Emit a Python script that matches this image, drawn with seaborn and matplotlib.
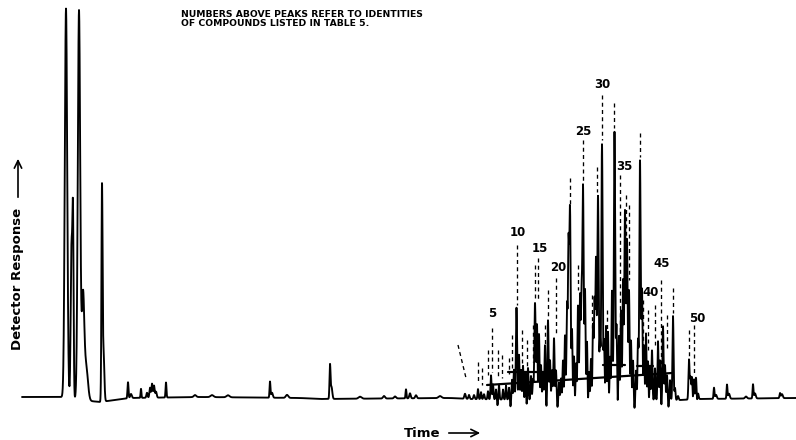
import numpy as np
import pandas as pd
import matplotlib
matplotlib.use("Agg")
import matplotlib.pyplot as plt
import seaborn as sns

sns.set_theme(style="white")
plt.rcParams['font.family'] = ['DejaVu Sans']
plt.rcParams['text.color'] = 'black'
plt.rcParams['axes.labelcolor'] = 'black'

# ---- chromatogram peaks: retention position, height above baseline, half-width ----
peak_time = [
    66, 71.5, 73, 79, 83, 86, 102, 103.5,
    128, 131, 141, 147, 150, 152, 154, 156, 166, 195, 212, 228,
    270, 272, 287, 330, 331.5, 360, 384, 395, 406, 410, 416, 440,
    465, 469, 474, 478, 481, 484, 488, 491, 493, 496, 499, 503, 506, 509,
    512, 514, 516.5, 519, 521, 523, 525.5, 528, 531, 533, 535, 537, 539,
    541, 543, 545, 548, 550, 552, 554, 556, 559, 561, 563, 565, 567,
    568.5, 570, 572, 574, 576, 578, 580, 581.5, 583, 585, 587, 589, 591,
    593, 594.5, 596, 598, 600, 602, 604, 606, 608, 610, 612, 614.5,
    616.5, 619, 621, 623, 625, 627, 629, 631, 633, 636, 638, 640, 642,
    644, 646, 648, 650, 652, 655, 658, 660, 663, 665, 667, 670, 673,
    675, 678, 689, 690.5, 692, 694, 696, 698,
    714, 716, 727, 729, 746, 753, 755, 780, 782,
    497.5, 510.5, 526.5, 546.5, 557.5, 575, 588, 603, 609, 617.5,
    634.5, 649, 661.5, 668.5, 692.5, 697,
]
peak_height = [
    389, 150, 170, 389, 100, 35, 210, 50,
    16, 4, 9, 5, 10, 14, 12, 6, 15, 2, 2, 2,
    16, 5, 3, 33, 12, 2, 2.5, 2, 9, 5, 3, 2,
    5, 4, 4, 10, 7, 5, 8, 24, 15, 10, 14, 10, 14, 12,
    20, 30, 92, 45, 30, 34, 28, 32, 24, 20, 97, 75, 66,
    35, 28, 55, 80, 40, 30, 62, 30, 18, 22, 40, 65, 95,
    150, 192, 70, 45, 38, 95, 105, 98, 214, 110, 60, 30, 42,
    75, 100, 140, 205, 60, 257, 60, 75, 70, 45, 110, 269,
    75, 65, 90, 120, 190, 160, 110, 60, 40, 30, 60, 240, 110,
    55, 67, 40, 35, 50, 32, 59, 40, 74, 35, 25, 20, 84,
    12, 4, 40, 22, 25, 20, 22, 6,
    11, 4, 14, 5, 2, 14, 5, 5, 4,
    -6, -7, -7, -8, -7, -6, -8, -6, -7, -6,
    -8, -7, -6, -7, -5, -4,
]
peak_width = [
    1.2, 0.8, 0.6, 1.2, 1.2, 1.8, 0.55, 0.8,
    0.5, 0.8, 0.4, 0.6, 0.6, 0.6, 0.6, 0.7, 0.45, 1.2, 1.5, 1.5,
    0.45, 0.8, 1.2, 0.5, 0.8, 1.5, 1.0, 1.0, 0.45, 0.7, 0.8, 1.5,
    0.7, 0.6, 0.6, 0.5, 0.5, 0.6, 0.5, 0.5, 0.5, 0.5, 0.5, 0.5, 0.5, 0.5,
    0.5, 0.5, 0.6, 0.5, 0.5, 0.5, 0.5, 0.5, 0.5, 0.5, 0.65, 0.5, 0.5,
    0.5, 0.5, 0.5, 0.55, 0.5, 0.5, 0.55, 0.5, 0.5, 0.5, 0.5, 0.5, 0.55,
    0.55, 0.65, 0.5, 0.5, 0.5, 0.55, 0.55, 0.55, 0.65, 0.55, 0.5, 0.5, 0.5,
    0.5, 0.55, 0.55, 0.65, 0.5, 0.65, 0.5, 0.5, 0.5, 0.5, 0.55, 0.65,
    0.5, 0.5, 0.5, 0.55, 0.65, 0.6, 0.55, 0.5, 0.5, 0.5, 0.5, 0.65, 0.55,
    0.5, 0.5, 0.5, 0.5, 0.5, 0.5, 0.5, 0.5, 0.55, 0.5, 0.5, 0.5, 0.55,
    0.5, 0.6, 0.55, 0.5, 0.5, 0.5, 0.5, 0.6,
    0.45, 0.8, 0.45, 0.8, 1.0, 0.45, 0.8, 0.5, 0.8,
    0.5, 0.5, 0.5, 0.5, 0.5, 0.5, 0.5, 0.4, 0.5, 0.5,
    0.5, 0.5, 0.5, 0.5, 0.5, 0.5,
]

# detector baseline drift
baseline_time = [22, 62, 90, 100, 115, 130, 200, 300, 320, 450, 470, 600, 680, 700, 796]
baseline_level = [0, 0, -4, -5, -3, -1, 0, -1, -2, -1, -2, -4, -3, -2, -1]

# compound numbers written above the peaks
label_text = ["5", "10", "15", "20", "25", "30", "35", "40", "45", "50"]
label_time = [492, 518, 540, 558, 583, 602, 624, 651, 662, 697]
label_level = [84, 165, 149, 130, 266, 313, 231, 105, 134, 79]

# dashed identification marks: top position, bottom position, top level, bottom level
dash_top_time = [492, 517, 538, 535, 556, 548, 570, 583, 597, 602, 614, 620, 626, 629,
                 640, 643, 661, 673, 689, 694, 458, 478, 482, 488, 498, 502, 509, 512,
                 522, 527, 533, 545, 578, 592, 607, 648, 655, 667]
dash_bot_time = [492, 517, 538, 535, 556, 548, 570, 583, 597, 602, 614, 620, 626, 629,
                 640, 643, 661, 673, 689, 694, 466, 478, 482, 488, 498, 502, 509, 512,
                 522, 527, 533, 545, 578, 592, 607, 648, 655, 667]
dash_top = [69, 152, 139, 132, 119, 107, 219, 257, 230, 302, 294, 222, 202, 192,
            264, 97, 117, 109, 67, 72, 52, 35, 29, 47, 47, 42, 39, 62,
            67, 57, 72, 72, 132, 102, 87, 87, 92, 82]
dash_bottom = [25, 92, 97, 97, 62, 79, 192, 214, 205, 257, 269, 32, 97, 117,
               240, 25, 25, 84, 40, 22, 19, 15, 12, 22, 19, 19, 23, 27,
               30, 29, 35, 52, 107, 67, 57, 47, 52, 47]

# integration baselines drawn under the cluster
seg_start = [487, 508, 603, 637]
seg_end = [672, 555, 625, 653]
seg_start_level = [12, 25, 32, 31]
seg_end_level = [24, 25, 32, 31]

# ---- build the detector trace ----
t = np.arange(22, 796.01, 0.1)
signal = np.interp(t, baseline_time, baseline_level)
for c, h, w in zip(peak_time, peak_height, peak_width):
    signal = signal + h * np.exp(-0.5 * ((t - c) / w) ** 2)
trace = pd.DataFrame({"time": t, "response": signal})

fig = plt.figure(figsize=(7.96, 4.40), dpi=100)
ax = fig.add_axes([0, 28 / 440, 1, 412 / 440])

sns.lineplot(data=trace, x="time", y="response", color="black", linewidth=1.35,
             estimator=None, sort=False, ax=ax)

for x0, x1, y0, y1 in zip(dash_top_time, dash_bot_time, dash_top, dash_bottom):
    ax.plot([x0, x1], [y0, y1], color="black", linewidth=0.95,
            linestyle=(0, (3, 2.5)))

for x0, x1, y0, y1 in zip(seg_start, seg_end, seg_start_level, seg_end_level):
    ax.plot([x0, x1], [y0, y1], color="black", linewidth=1.6)

for txt, x, y in zip(label_text, label_time, label_level):
    ax.text(x, y, txt, ha="center", va="center", fontsize=8.5,
            fontweight="bold", color="black")

ax.text(181, 378, "NUMBERS ABOVE PEAKS REFER TO IDENTITIES\nOF COMPOUNDS LISTED IN TABLE 5.",
        ha="left", va="center", fontsize=6.7, fontweight="bold", linespacing=1.0,
        color="black")

ax.set_xlim(0, 796)
ax.set_ylim(-15, 397)
ax.set_xticks([])
ax.set_yticks([])
sns.despine(ax=ax, left=True, bottom=True)

ax.set_xlabel("Time", fontsize=9.5, fontweight="bold", va="center", ha="center",
              color="black")
ax.xaxis.set_label_coords(422 / 796, (-36 + 15) / 412)
ax.set_ylabel("Detector Response", fontsize=9.5, fontweight="bold",
              va="center", ha="center", color="black")
ax.yaxis.set_label_coords(18 / 796, (118 + 15) / 412)

arrow = dict(arrowstyle="->,head_length=0.45,head_width=0.22", color="black", lw=1.2)
ax.annotate("", xy=(483, -36), xytext=(446, -36), arrowprops=arrow,
            annotation_clip=False)
ax.annotate("", xy=(18, 241), xytext=(18, 197), arrowprops=arrow,
            annotation_clip=False)

fig.savefig("out.png", dpi=100)
